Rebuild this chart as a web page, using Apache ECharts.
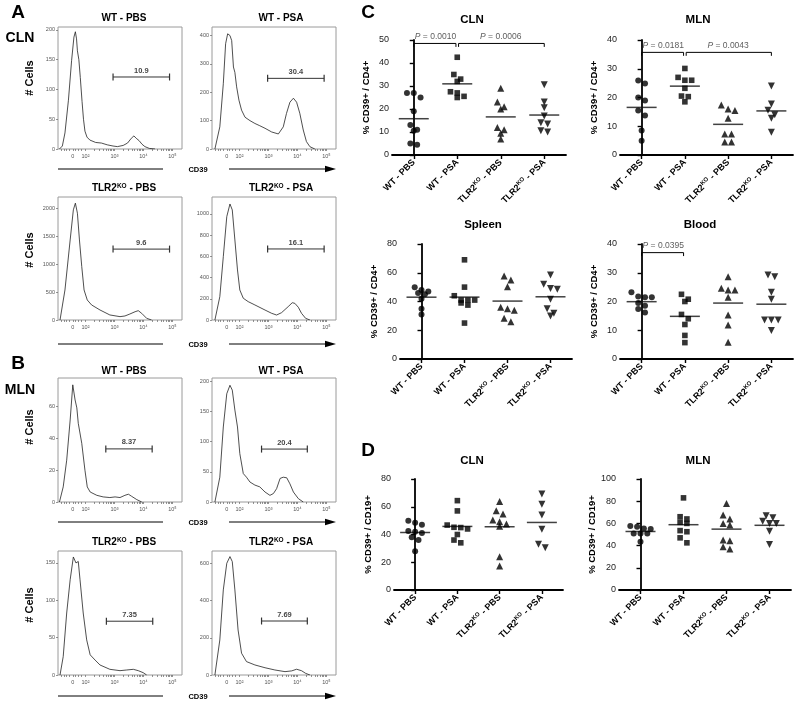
<!DOCTYPE html>
<html><head><meta charset="utf-8">
<script src="https://cdn.jsdelivr.net/npm/echarts@6/dist/echarts.min.js"></script>
<style>html,body{margin:0;padding:0;background:#fff}#c{width:800px;height:707px}</style>
</head><body><div id="c"></div><script>
// ---------- DATA ----------
// Flow histograms: [CD39 position in decades on the logicle display, # cells]
const histCLN_WT_PBS = [[1.10,0],[1.20,5],[1.29,27],[1.41,82],[1.52,149],[1.60,188],[1.65,197],[1.69,185],[1.72,165],[1.77,150],[1.82,120],[1.88,80],[1.93,50],[1.98,30],[2.05,20],[2.15,15],[2.35,11],[2.55,10],[2.75,7],[2.95,5],[3.10,4],[3.30,6],[3.45,10],[3.58,18],[3.67,22],[3.75,18],[3.85,14],[3.95,8],[4.05,4],[4.20,1],[4.40,0]];
const histCLN_WT_PSA = [[1.15,0],[1.32,78],[1.44,230],[1.52,371],[1.59,406],[1.67,400],[1.73,382],[1.79,289],[1.84,270],[1.90,219],[1.98,172],[2.07,137],[2.19,112],[2.36,100],[2.53,90],[2.70,82],[2.88,73],[3.11,60],[3.34,53],[3.51,78],[3.62,125],[3.74,165],[3.86,179],[3.97,165],[4.08,126],[4.20,67],[4.31,26],[4.43,8],[4.60,0]];
const histCLN_KO_PBS = [[1.12,0],[1.29,537],[1.47,1432],[1.58,1970],[1.65,2090],[1.72,1910],[1.79,1432],[1.87,955],[1.95,537],[2.06,358],[2.21,269],[2.50,179],[2.84,90],[3.19,60],[3.36,72],[3.53,107],[3.71,148],[3.82,167],[3.94,119],[4.11,30],[4.28,0]];
const histCLN_KO_PSA = [[1.15,0],[1.32,220],[1.44,597],[1.56,975],[1.67,1094],[1.75,1038],[1.84,755],[1.93,472],[2.01,283],[2.13,205],[2.30,173],[2.53,142],[2.88,94],[3.11,63],[3.28,47],[3.45,69],[3.68,126],[3.82,163],[3.91,157],[4.03,120],[4.14,63],[4.28,16],[4.43,0]];
const histMLN_WT_PBS = [[1.10,0],[1.23,9.5],[1.35,26.3],[1.47,51.6],[1.56,73.7],[1.64,64.2],[1.70,59.2],[1.75,49.5],[1.87,36.9],[1.98,20],[2.06,9.5],[2.16,6.3],[2.39,4.2],[2.61,3.2],[2.84,2.8],[3.02,3.2],[3.19,2.8],[3.36,4.2],[3.48,4.9],[3.59,3.6],[3.77,1.5],[3.94,0]];
const histMLN_WT_PSA = [[1.15,0],[1.32,41],[1.44,124],[1.56,179],[1.67,193],[1.75,185],[1.84,152],[1.93,124],[2.01,80],[2.13,47],[2.24,41],[2.36,33],[2.53,28],[2.70,25],[2.88,16.5],[3.05,11],[3.17,14],[3.28,22],[3.40,39],[3.51,41],[3.63,40],[3.74,30],[3.86,16.5],[4.03,5.6],[4.20,0]];
const histMLN_KO_PBS = [[1.12,0],[1.23,24.6],[1.35,83],[1.47,127.5],[1.58,158],[1.67,150],[1.75,152],[1.81,127.5],[1.92,83],[2.04,47],[2.16,27],[2.33,20],[2.50,13.4],[2.84,7.6],[3.19,5.8],[3.42,6.7],[3.65,7.6],[3.82,5.8],[3.99,3.1],[4.11,0]];
const histMLN_KO_PSA = [[1.15,0],[1.32,188],[1.44,457],[1.56,600],[1.67,636],[1.75,609],[1.84,457],[1.95,242],[2.07,117],[2.24,72],[2.53,54],[2.88,39],[3.22,27],[3.57,18],[3.80,22],[3.97,31],[4.14,23],[4.28,9],[4.43,0]];

const histTitles = ['WT - PBS','WT - PSA','TLR2KO - PBS','TLR2KO - PSA','WT - PBS','WT - PSA','TLR2KO - PBS','TLR2KO - PSA'];
const histYMax = [205, 430, 2200, 1160, 78, 205, 166, 666];
const histYTicks = [[0,50,100,150,200],[0,100,200,300,400],[0,500,1000,1500,2000],[0,200,400,600,800,1000],[0,20,40,60],[0,50,100,150,200],[0,50,100,150],[0,200,400,600]];
const histXTickVals = [1.56, 2, 3, 4, 5];
const histXTickText = ['0','10²','10³','10⁴','10⁵'];
const gatePct = ['10.9','30.4','9.6','16.1','8.37','20.4','7.35','7.69'];
const gateLo = [2.95,2.97,2.95,2.97,2.70,2.76,2.72,2.76];
const gateHi = [4.90,4.92,4.90,4.92,4.30,4.34,4.32,4.34];
const gateCount = [121,249,1268,670,33.4,87.5,72,290];

// Dot plots: % CD39+
const groups = ['WT - PBS','WT - PSA','TLR2KO - PBS','TLR2KO - PSA'];
const cCLN_wtPBS = [27,27,25,19,13,11,10.5,4.5,5];
const cCLN_wtPSA = [42.5,35,33,32,27.5,27,25.5,25];
const cCLN_koPBS = [29,23,21,20,12,11,9.5,7];
const cCLN_koPSA = [30.5,23,20.5,17,14,13.5,10.5,10];
const cMLN_wtPBS = [25.9,24.9,20,19,15.5,13.7,8.5,5];
const cMLN_wtPSA = [30.1,27,26,26,23.2,20.5,20.3,18.5];
const cMLN_koPBS = [17.4,16,15.5,12.8,7.3,7.3,4.5,4.5];
const cMLN_koPSA = [24,17.7,15.6,14,12.8,7.9];
const cSpleen_wtPBS = [50,48,47,46,45,42,35,31];
const cSpleen_wtPSA = [69,50,44,41,41,41,39,37.5,25];
const cSpleen_koPBS = [57.7,55,50.3,36,35,34,28.3,26];
const cSpleen_koPSA = [58.4,52,49,48.5,41.5,35,31.8,30];
const cBlood_wtPBS = [23.2,21.7,21.5,21.5,19.5,18.5,17.4,16.2];
const cBlood_wtPSA = [22.5,20.8,20,15.5,14,12,8.2,5.7];
const cBlood_koPBS = [28.6,24.6,24,24,21.5,15.3,11.8,5.8];
const cBlood_koPSA = [29.2,28.6,23.2,20.8,13.6,13.6,13.6,9.9];
const dCLN_wtPBS = [50,48.5,47,42.5,42,41,38,36,28];
const dCLN_wtPSA = [64.4,57,46.8,45.2,45,44,40,36,34];
const dCLN_koPBS = [63.7,57.2,54.8,50.5,49.2,47.6,46,24,17.3];
const dCLN_koPSA = [69.2,61.8,54,43.7,32.9,30.5];
const dMLN_wtPBS = [57.7,57,55.5,55,51,51,51,43.5];
const dMLN_wtPSA = [83,66,64,61,60,53.5,52.5,47,42.5];
const dMLN_koPBS = [78,67.6,64,60,58.5,45,44.4,39,37];
const dMLN_koPSA = [67,65,62,60,60,53,41];

// significance: [group from, group to, bracket level, P value]
const sigCLN = [[0,1,48.5,'0.0010'],[1,3,48.5,'0.0006']];
const sigMLN = [[0,1,35.7,'0.0181'],[1,3,35.7,'0.0043']];
const sigBlood = [[0,1,37,'0.0395']];

// ---------- BUILD ----------
const FONT = '"Liberation Sans", Arial, sans-serif';
const chart = echarts.init(document.getElementById('c'), null, {renderer:'canvas', width:800, height:707});
const grids=[], xAxes=[], yAxes=[], series=[], graphics=[];

function txt(x,y,text,font,opt){
  opt = opt||{};
  graphics.push({type:'text', x:x, y:y, rotation:opt.rot||0, silent:true,
    style:Object.assign({text:text, font:font, fill:opt.fill||'#000', align:opt.align||'center', verticalAlign:'middle'}, opt.style||{})});
}
function koRich(s){ return s.replace('TLR2KO','TLR2{s|KO}'); }

// histogram axes ticks (minor ticks on the logicle axis)
const histMinor = [1.15,1.25,1.35,1.45,1.56,1.66,1.76,1.86];
for (let d=2; d<5; d++) for (let k=1;k<10;k++) histMinor.push(+(d+Math.log10(k)).toFixed(4));
histMinor.push(5);

const hists = [histCLN_WT_PBS,histCLN_WT_PSA,histCLN_KO_PBS,histCLN_KO_PSA,histMLN_WT_PBS,histMLN_WT_PSA,histMLN_KO_PBS,histMLN_KO_PSA];
const hLeft=[58,212], hTop=[27,197,378,551], hH=[122,123,124,124], hW=124;
const titleY=[18,188,371,542], titleX=[124,281];
hists.forEach((d,i)=>{
  const row=Math.floor(i/2), col=i%2, gi=grids.length;
  grids.push({left:hLeft[col], top:hTop[row], width:hW, height:hH[row], show:true, borderColor:'#9a9a9a', borderWidth:1, backgroundColor:'rgba(0,0,0,0)'});
  xAxes.push({type:'value', gridIndex:gi, min:1.05, max:5.33, splitLine:{show:false}, axisLine:{show:false},
    axisTick:{show:true, length:2, customValues:histMinor, lineStyle:{color:'#666', width:0.7}},
    axisLabel:{customValues:histXTickVals, formatter:v=>histXTickText[histXTickVals.indexOf(v)], fontSize:5.5, color:'#555', margin:4, fontFamily:FONT}});
  yAxes.push({type:'value', gridIndex:gi, min:0, max:histYMax[i], splitLine:{show:false}, axisLine:{show:false},
    axisTick:{show:true, length:2, customValues:histYTicks[i], lineStyle:{color:'#666', width:0.7}},
    axisLabel:{customValues:histYTicks[i], formatter:v=>String(v), fontSize:5.5, color:'#555', margin:3, fontFamily:FONT}});
  series.push({type:'line', xAxisIndex:gi, yAxisIndex:gi, data:d, symbol:'none', lineStyle:{color:'#222', width:0.8}, silent:true, animation:false});
  series.push({type:'line', xAxisIndex:gi, yAxisIndex:gi, data:[[gateLo[i],gateCount[i]],[gateHi[i],gateCount[i]]],
    symbol:'rect', symbolSize:[1.2,7], showSymbol:true, itemStyle:{color:'#333'}, lineStyle:{color:'#333', width:1}, silent:true, animation:false});
  series.push({type:'scatter', xAxisIndex:gi, yAxisIndex:gi, data:[[(gateLo[i]+gateHi[i])/2, gateCount[i]]], symbolSize:1,
    itemStyle:{color:'rgba(0,0,0,0)'}, silent:true, animation:false,
    label:{show:true, position:'top', distance:2, formatter:gatePct[i], fontSize:7.5, fontWeight:'bold', color:'#111', fontFamily:FONT}});
  txt(titleX[col], titleY[row], koRich(histTitles[i]), 'bold 10px '+FONT,
      {style:{rich:{s:{fontSize:6.5, fontWeight:'bold', fontFamily:FONT, verticalAlign:'top', lineHeight:7, fill:'#000'}}}});
});
// decorations of the histogram panels
[169,344,522,696].forEach(y=>{
  graphics.push({type:'line', silent:true, shape:{x1:58,y1:y,x2:163,y2:y}, style:{stroke:'#000', lineWidth:1}});
  graphics.push({type:'line', silent:true, shape:{x1:229,y1:y,x2:327,y2:y}, style:{stroke:'#000', lineWidth:1}});
  graphics.push({type:'polygon', silent:true, shape:{points:[[325,y-3.2],[336,y],[325,y+3.2]]}, style:{fill:'#000'}});
  txt(198, y+1, 'CD39', 'bold 7.5px '+FONT);
});
[78,250,427,605].forEach(y=> txt(30, y, '# Cells', 'bold 11px '+FONT, {rot:Math.PI/2}));
txt(18,13,'A','bold 19px '+FONT); txt(18,364,'B','bold 19px '+FONT);
txt(368,13,'C','bold 19px '+FONT); txt(368,451,'D','bold 19px '+FONT);
txt(20,38,'CLN','bold 14px '+FONT); txt(20,390,'MLN','bold 14px '+FONT);

// dot plots
const panels = [
  {data:[cCLN_wtPBS,cCLN_wtPSA,cCLN_koPBS,cCLN_koPSA], ymax:50, step:10, name:'% CD39+ / CD4+', g:{left:392,top:40,width:174,height:115}, title:'CLN', tx:472, ty:20, sig:sigCLN},
  {data:[cMLN_wtPBS,cMLN_wtPSA,cMLN_koPBS,cMLN_koPSA], ymax:40, step:10, name:'% CD39+ / CD4+', g:{left:620,top:40,width:173,height:115}, title:'MLN', tx:698, ty:20, sig:sigMLN},
  {data:[cSpleen_wtPBS,cSpleen_wtPSA,cSpleen_koPBS,cSpleen_koPSA], ymax:80, step:20, name:'% CD39+ / CD4+', g:{left:400,top:244,width:172,height:115}, title:'Spleen', tx:483, ty:225, sig:[]},
  {data:[cBlood_wtPBS,cBlood_wtPSA,cBlood_koPBS,cBlood_koPSA], ymax:40, step:10, name:'% CD39+ / CD4+', g:{left:620,top:244,width:173,height:115}, title:'Blood', tx:700, ty:225, sig:sigBlood},
  {data:[dCLN_wtPBS,dCLN_wtPSA,dCLN_koPBS,dCLN_koPSA], ymax:80, step:20, name:'% CD39+ / CD19+', g:{left:394,top:479,width:169,height:111}, title:'CLN', tx:472, ty:461, sig:[]},
  {data:[dMLN_wtPBS,dMLN_wtPSA,dMLN_koPBS,dMLN_koPSA], ymax:100, step:20, name:'% CD39+ / CD19+', g:{left:619,top:479,width:172,height:111}, title:'MLN', tx:698, ty:461, sig:[]}
];
const symbols=['circle','rect','triangle','triangle'], symRot=[0,0,0,180], symSize=[6,5.6,7,7];
const catRich = {
  n:{fontSize:9, fontWeight:'bold', fontFamily:FONT, color:'#000', lineHeight:11},
  s:{fontSize:6, fontWeight:'bold', fontFamily:FONT, color:'#000', lineHeight:6, verticalAlign:'top'}
};
function catLabel(s){ return s.indexOf('TLR2KO')===0 ? '{n|TLR2}{s|KO}{n|'+s.slice(6)+'}' : '{n|'+s+'}'; }
function jitter(vals, pxPerUnit){
  const order = vals.map((v,i)=>i).sort((a,b)=>vals[b]-vals[a]);
  const off = vals.map(()=>0); let row=[], top=null;
  const flush=()=>{ row.forEach((k,j)=>{ off[k]=(j-(row.length-1)/2)*6.8; }); row=[]; };
  order.forEach(k=>{
    if(row.length && (top-vals[k])*pxPerUnit > 5.5) flush();
    if(!row.length) top=vals[k];
    row.push(k);
  });
  flush(); return off;
}
const mean = a => a.reduce((s,v)=>s+v,0)/a.length;

panels.forEach(p=>{
  const gi=grids.length;
  grids.push(Object.assign({}, p.g));
  xAxes.push({type:'value', gridIndex:gi, min:-0.5, max:3.5, splitLine:{show:false},
    axisLine:{show:true, onZero:false, lineStyle:{color:'#000', width:1.8}},
    axisTick:{show:true, customValues:[0,1,2,3], length:4, lineStyle:{color:'#000', width:1.4}},
    axisLabel:{customValues:[0,1,2,3], rotate:45, margin:6, formatter:v=>catLabel(groups[v]), rich:catRich}});
  yAxes.push({type:'value', gridIndex:gi, min:0, max:p.ymax, interval:p.step, splitLine:{show:false},
    axisLine:{show:true, lineStyle:{color:'#000', width:1.8}},
    axisTick:{show:true, length:4, lineStyle:{color:'#000', width:1.4}},
    axisLabel:{fontSize:9, color:'#222', margin:3, fontFamily:FONT},
    name:p.name, nameLocation:'middle', nameGap:21,
    nameTextStyle:{fontSize:9.5, fontWeight:'bold', color:'#000', fontFamily:FONT}});
  const ppu = p.g.height/p.ymax;
  p.data.forEach((vals,k)=>{
    const off = jitter(vals, ppu);
    series.push({type:'scatter', xAxisIndex:gi, yAxisIndex:gi, symbol:symbols[k], symbolRotate:symRot[k], symbolSize:symSize[k],
      itemStyle:{color:'#000'}, silent:true, animation:false,
      data: vals.map((v,j)=>({value:[k,v], symbolOffset:[off[j],0]}))});
  });
  series.push({type:'scatter', xAxisIndex:gi, yAxisIndex:gi, symbol:'rect', symbolSize:[30,1.5], itemStyle:{color:'#111'}, silent:true, animation:false,
    data:p.data.map((vals,k)=>[k, mean(vals)]), z:1});
  p.sig.forEach(s=>{
    const [a,b,lev,pv]=s, drop=p.ymax*0.03;
    const a2 = a===1 ? a+0.03 : a, b2 = b===1 ? b-0.03 : b;
    series.push({type:'line', xAxisIndex:gi, yAxisIndex:gi, symbol:'none', silent:true, animation:false,
      lineStyle:{color:'#000', width:1}, data:[[a2,lev-drop],[a2,lev],[b2,lev],[b2,lev-drop]]});
    series.push({type:'scatter', xAxisIndex:gi, yAxisIndex:gi, symbolSize:1, itemStyle:{color:'rgba(0,0,0,0)'}, silent:true, animation:false,
      data:[[(a+b)/2, lev]],
      label:{show:true, position:'top', distance:2, formatter:'{i|P} = '+pv, fontSize:8.5, color:'#333', fontFamily:FONT,
        rich:{i:{fontStyle:'italic', fontSize:8.5, color:'#333', fontFamily:FONT}}}});
  });
  txt(p.tx, p.ty, p.title, 'bold 11.5px '+FONT);
});

chart.setOption({animation:false, backgroundColor:'#fff', textStyle:{fontFamily:FONT},
  grid:grids, xAxis:xAxes, yAxis:yAxes, series:series, graphic:{elements:graphics}});
</script></body></html>
